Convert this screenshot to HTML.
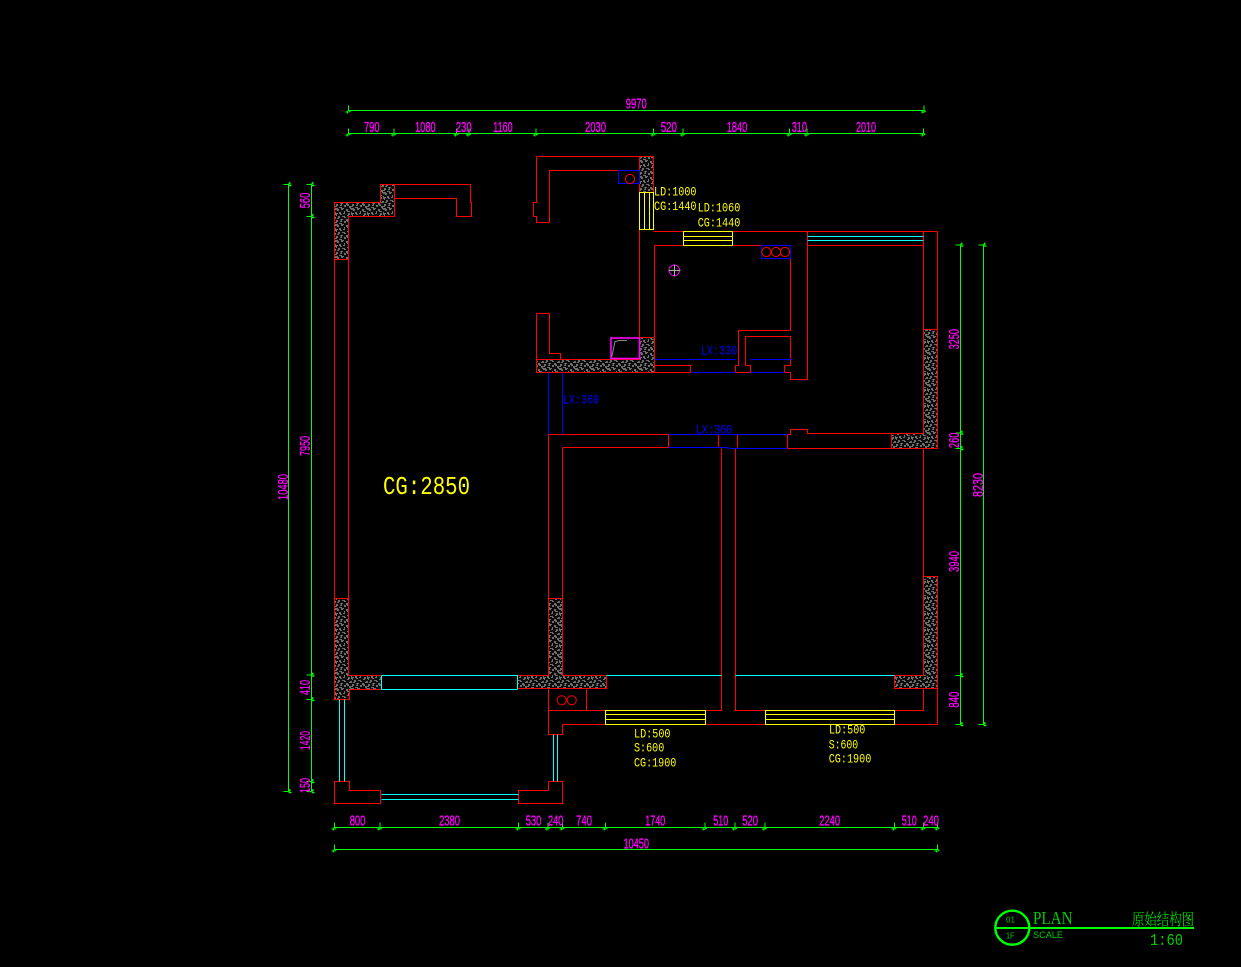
<!DOCTYPE html>
<html><head><meta charset="utf-8"><style>
html,body{margin:0;padding:0;background:#000;width:1241px;height:967px;overflow:hidden}
svg{display:block}
.l{fill:none;shape-rendering:crispEdges;stroke-width:1}
.r{stroke:#f00}.b{stroke:#00f}.y{stroke:#ff0}.c{stroke:#0ff}.g{stroke:#0f0}.m{stroke:#f0f}
text{font-family:"Liberation Sans",sans-serif}
.d text{fill:#f0f;stroke:#f0f;stroke-width:.3;font-size:14.5px}
.o text{fill:#ff0;font-family:"Liberation Mono",monospace;font-size:13px}
.u text{fill:#00f;font-family:"Liberation Mono",monospace;font-size:13px}
</style></head><body>
<svg width="1241" height="967" viewBox="0 0 1241 967" xmlns="http://www.w3.org/2000/svg">
<defs>
<pattern id="h" width="16" height="16" patternUnits="userSpaceOnUse" x="0" y="0">
<rect width="16" height="16" fill="#0c0c0c"/>
<path fill="#6e6e6e" d="M0 0h2v1h1v2h-2v-1h-1zM5 0h3v1h-1v1h-2zM10 1h2v2h2v1h-3v-1h-1zM14 0h2v2h-1v-1h-1zM3 4h2v2h1v1h-2v-1h-1zM8 3h1v3h-2v-1h1zM0 5h2v1h-1v2h-1zM12 5h2v2h-1v1h-2v-1h1zM15 4h1v3h-1zM2 8h2v2h-1v1h-2v-1h1zM6 8h3v1h1v1h-2v-1h-2zM14 9h2v2h-3v-1h1zM10 11h2v1h1v2h-2v-1h-1zM4 11h3v1h-1v2h-2v-1h1zM0 12h2v2h-1v1h-1zM8 13h2v2h-2zM13 14h3v1h-1v1h-2zM3 15h3v1h-3z"/>
</pattern>
<g id="t"><path d="M0 -5V0L2 1M-3 1.5H1M-1.2 0V3" fill="none" stroke="#0f0" stroke-width="1"/></g>
<g id="v"><path d="M-5 0H0L1 -2M1.5 -2.5V2M0 1H3" fill="none" stroke="#0f0" stroke-width="1"/></g>
</defs>
<rect width="1241" height="967" fill="#000"/>

<!-- hatched walls -->
<g fill="url(#h)" stroke="#f00" stroke-width="1" shape-rendering="crispEdges">
<path d="M334.5 202.5H380.5V184.5H394.5V216.5H348.5V259.5H334.5Z"/>
<path d="M334.5 598.5H348.5V675.5H381.5V689.5H349.5V699.5H334.5Z"/>
<path d="M548.5 598.5H562.5V675.5H606.5V688.5H517.5V675.5H548.5Z"/>
<path d="M923.5 576.5H937.5V688.5H894.5V675.5H923.5Z"/>
<path d="M923.5 329.5H937.5V448.5H891.5V433.5H923.5Z"/>
<path d="M639.5 156.5H653.5V192.5H639.5Z"/>
<path d="M536.5 359.5H639.5V337.5H654.5V372.5H536.5Z"/>
</g>

<!-- red walls -->
<path class="l r" d="M334.5 259.5V598.5M348.5 259.5V598.5
M394.5 184.5H470.5V202.5H471.5V216.5H456.5V198.5H394.5
M536.5 156.5H639.5M536.5 156.5V202.5H533.5V216.5H536.5V222.5H549.5V170.5H618.5
M536.5 313.5V359.5M536.5 313.5H549.5V353.5H560.5V359.5
M639.5 229.5V337.5
M653.5 231.5H683.5M732.5 231.5H937.5M654.5 245.5H683.5M732.5 245.5H790.5V330.5H738.5V365.5H735.5V372.5
M654.5 245.5V337.5
M654.5 365.5H690.5V372.5M654.5 372.5H690.5M735.5 372.5H750.5V365.5H745.5V336.5H790.5V365.5H784.5V372.5H790.5V379.5H807.5V231.5
M807.5 245.5H923.5M923.5 231.5V329.5M937.5 231.5V329.5
M548.5 434.5H668.5V447.5M562.5 447.5H668.5M548.5 434.5V598.5M562.5 447.5V598.5
M718.5 434.5V447.5M737.5 434.5V447.5M787.5 434.5V448.5M787.5 434.5H790.5V429.5H807.5V433.5H891.5
M787.5 448.5H891.5M923.5 448.5V576.5
M721.5 448.5V710.5H705.5M735.5 448.5V710.5H765.5
M548.5 688.5V734.5H562.5V724.5H605.5M548.5 710.5H605.5M586.5 688.5V710.5
M705.5 724.5H765.5M894.5 724.5H937.5V688.5M894.5 710.5H923.5V688.5
M334.5 781.5H349.5V790.5H380.5V803.5H334.5Z
M562.5 781.5H548.5V790.5H518.5V803.5H562.5Z"/>

<!-- blue -->
<path class="l b" d="M618.5 170.5H639.5V183.5H618.5Z M761.5 245.5H790.5V258.5H761.5Z
M690.5 372.5H735.5M750.5 372.5H784.5
M654.5 359.5H736.5M750.5 359.5H792.5
M548.5 372.5V434.5M562.5 372.5V434.5
M668.5 434.5H787.5M668.5 447.5H728.5M728.5 448.5H787.5"/>

<!-- cyan -->
<path class="l c" d="M381.5 675.5H517.5V689M381.5 675.5V689.5H517.5
M606.5 675.5H721.5M735.5 675.5H894.5
M339.5 699.5V781.5M344.5 699.5V781.5
M553.5 734.5V781.5M557.5 734.5V781.5
M381.5 794.5H518.5M381.5 799.5H518.5
M807.5 236.5H923.5M807.5 240.5H923.5"/>

<!-- yellow windows -->
<path class="l y" d="M639.5 192.5H653.5V229.5H639.5ZM644.5 192.5V229.5M649.5 192.5V229.5
M683.5 231.5H732.5V245.5H683.5ZM683.5 236.5H732.5M683.5 240.5H732.5
M605.5 710.5H705.5V724.5H605.5ZM605.5 714.5H705.5M605.5 719.5H705.5
M765.5 710.5H894.5V724.5H765.5ZM765.5 714.5H894.5M765.5 719.5H894.5"/>

<!-- fixtures -->
<g fill="none" stroke="#f00" stroke-width="1">
<circle cx="630" cy="179" r="4.6"/>
<circle cx="766.3" cy="252" r="4.6"/><circle cx="776" cy="252" r="4.6"/><circle cx="785" cy="252" r="4.6"/>
<circle cx="561.7" cy="700.3" r="4.6"/><circle cx="571.7" cy="700.3" r="4.6"/>
</g>
<rect x="611" y="338" width="28.5" height="20.5" fill="#000" stroke="#f0f" stroke-width="1.6"/>
<path d="M611.7 357L615 341.7L619 340.5H627" fill="none" stroke="#888" stroke-width="1"/>
<circle cx="674.3" cy="270.3" r="5.3" fill="none" stroke="#f0f"/>
<path class="l" stroke="#aaa" d="M668.5 270.5H680.5M674.5 264.5V276.5"/>

<!-- dimension lines -->
<path class="l g" d="M348.5 110.5H924.5M348.5 133.5H924.5
M334.5 827.5H938.5M334.5 849.5H938.5
M288.5 184.5V791.5M311.5 184.5V791.5
M960.5 245.5V724.5M983.5 245.5V724.5"/>
<g>
<use href="#t" x="348.5" y="110.5"/><use href="#t" x="924" y="110.5"/>
<use href="#t" x="348.5" y="133.5"/><use href="#t" x="394" y="133.5"/><use href="#t" x="456.5" y="133.5"/><use href="#t" x="469" y="133.5"/><use href="#t" x="536" y="133.5"/><use href="#t" x="653.5" y="133.5"/><use href="#t" x="683" y="133.5"/><use href="#t" x="789.5" y="133.5"/><use href="#t" x="807" y="133.5"/><use href="#t" x="923.5" y="133.5"/>
<use href="#t" x="334.5" y="827.5"/><use href="#t" x="380" y="827.5"/><use href="#t" x="518.5" y="827.5"/><use href="#t" x="548" y="827.5"/><use href="#t" x="562.5" y="827.5"/><use href="#t" x="605.5" y="827.5"/><use href="#t" x="705" y="827.5"/><use href="#t" x="735" y="827.5"/><use href="#t" x="765" y="827.5"/><use href="#t" x="894.5" y="827.5"/><use href="#t" x="923.5" y="827.5"/><use href="#t" x="937.5" y="827.5"/>
<use href="#t" x="334.5" y="849.5"/><use href="#t" x="937.5" y="849.5"/>
<use href="#v" x="288.5" y="184.5"/><use href="#v" x="288.5" y="791.5"/>
<use href="#v" x="311.5" y="184.5"/><use href="#v" x="311.5" y="216.5"/><use href="#v" x="311.5" y="675"/><use href="#v" x="311.5" y="699.5"/><use href="#v" x="311.5" y="781.5"/><use href="#v" x="311.5" y="791.5"/>
<use href="#v" x="960.5" y="245"/><use href="#v" x="960.5" y="433"/><use href="#v" x="960.5" y="448.5"/><use href="#v" x="960.5" y="675.5"/><use href="#v" x="960.5" y="724.5"/>
<use href="#v" x="983.5" y="245"/><use href="#v" x="983.5" y="724.5"/>
</g>

<!-- dimension text -->
<g class="d">
<text x="625.7" y="108.5" textLength="21" lengthAdjust="spacingAndGlyphs">9970</text>
<text x="364" y="132" textLength="15.5" lengthAdjust="spacingAndGlyphs">790</text>
<text x="415" y="132" textLength="20.7" lengthAdjust="spacingAndGlyphs">1080</text>
<text x="455.7" y="132" textLength="16" lengthAdjust="spacingAndGlyphs">230</text>
<text x="493.3" y="132" textLength="19.4" lengthAdjust="spacingAndGlyphs">1160</text>
<text x="585" y="132" textLength="21" lengthAdjust="spacingAndGlyphs">2030</text>
<text x="660.7" y="132" textLength="16.3" lengthAdjust="spacingAndGlyphs">520</text>
<text x="726.7" y="132" textLength="20.6" lengthAdjust="spacingAndGlyphs">1840</text>
<text x="791.7" y="132" textLength="15.3" lengthAdjust="spacingAndGlyphs">310</text>
<text x="856" y="132" textLength="20" lengthAdjust="spacingAndGlyphs">2010</text>
<text x="349.7" y="825.5" textLength="15.6" lengthAdjust="spacingAndGlyphs">800</text>
<text x="439" y="825.5" textLength="21" lengthAdjust="spacingAndGlyphs">2380</text>
<text x="525.7" y="825.5" textLength="15.6" lengthAdjust="spacingAndGlyphs">530</text>
<text x="548" y="825.5" textLength="15.3" lengthAdjust="spacingAndGlyphs">240</text>
<text x="576" y="825.5" textLength="16" lengthAdjust="spacingAndGlyphs">740</text>
<text x="645.3" y="825.5" textLength="20" lengthAdjust="spacingAndGlyphs">1740</text>
<text x="713.3" y="825.5" textLength="15" lengthAdjust="spacingAndGlyphs">510</text>
<text x="742.3" y="825.5" textLength="15.7" lengthAdjust="spacingAndGlyphs">520</text>
<text x="819.3" y="825.5" textLength="20.7" lengthAdjust="spacingAndGlyphs">2240</text>
<text x="901.7" y="825.5" textLength="15" lengthAdjust="spacingAndGlyphs">510</text>
<text x="923" y="825.5" textLength="16" lengthAdjust="spacingAndGlyphs">240</text>
<text x="623.5" y="848.5" textLength="25.5" lengthAdjust="spacingAndGlyphs">10450</text>
<text transform="translate(310,208.3) rotate(-90)" textLength="15.6" lengthAdjust="spacingAndGlyphs">560</text>
<text transform="translate(310,456) rotate(-90)" textLength="20" lengthAdjust="spacingAndGlyphs">7950</text>
<text transform="translate(310,695) rotate(-90)" textLength="15" lengthAdjust="spacingAndGlyphs">410</text>
<text transform="translate(310,750) rotate(-90)" textLength="19" lengthAdjust="spacingAndGlyphs">1420</text>
<text transform="translate(310,793) rotate(-90)" textLength="15" lengthAdjust="spacingAndGlyphs">150</text>
<text transform="translate(288,500) rotate(-90)" textLength="26" lengthAdjust="spacingAndGlyphs">10480</text>
<text transform="translate(959,349.3) rotate(-90)" textLength="20.3" lengthAdjust="spacingAndGlyphs">3250</text>
<text transform="translate(959,448) rotate(-90)" textLength="15.3" lengthAdjust="spacingAndGlyphs">260</text>
<text transform="translate(959,572) rotate(-90)" textLength="21" lengthAdjust="spacingAndGlyphs">3940</text>
<text transform="translate(959,707.7) rotate(-90)" textLength="16" lengthAdjust="spacingAndGlyphs">840</text>
<text transform="translate(983,497) rotate(-90)" textLength="24" lengthAdjust="spacingAndGlyphs">8230</text>
</g>

<!-- yellow labels -->
<g class="o">
<text x="654" y="195.5" textLength="42.5" lengthAdjust="spacingAndGlyphs">LD:1000</text>
<text x="654" y="210" textLength="42.5" lengthAdjust="spacingAndGlyphs">CG:1440</text>
<text x="697.7" y="211.5" textLength="42.6" lengthAdjust="spacingAndGlyphs">LD:1060</text>
<text x="697.7" y="226.5" textLength="42.6" lengthAdjust="spacingAndGlyphs">CG:1440</text>
<text x="634" y="737.5" textLength="36.5" lengthAdjust="spacingAndGlyphs">LD:500</text>
<text x="634" y="751.5" textLength="30.3" lengthAdjust="spacingAndGlyphs">S:600</text>
<text x="634" y="766.5" textLength="42.3" lengthAdjust="spacingAndGlyphs">CG:1900</text>
<text x="829" y="733.5" textLength="36.3" lengthAdjust="spacingAndGlyphs">LD:500</text>
<text x="828.7" y="748.5" textLength="29.5" lengthAdjust="spacingAndGlyphs">S:600</text>
<text x="828.7" y="762.5" textLength="42.6" lengthAdjust="spacingAndGlyphs">CG:1900</text>
</g>
<text x="383" y="494" textLength="87" lengthAdjust="spacingAndGlyphs" style="font-family:'Liberation Mono',monospace;font-size:26px;fill:#ff0">CG:2850</text>

<!-- blue labels -->
<g class="u">
<text x="700.7" y="354.5" textLength="36.6" lengthAdjust="spacingAndGlyphs">LX:330</text>
<text x="562.7" y="403.5" textLength="36.6" lengthAdjust="spacingAndGlyphs">LX:360</text>
<text x="695.7" y="433.5" textLength="36.6" lengthAdjust="spacingAndGlyphs">LX:360</text>
</g>

<!-- title block -->
<circle cx="1012.3" cy="927.7" r="17" fill="none" stroke="#0f0" stroke-width="2.4"/>
<rect x="995" y="927" width="199" height="2" fill="#0f0"/>
<text x="1006" y="922.5" textLength="9" lengthAdjust="spacingAndGlyphs" style="font-size:8px;fill:#0c0">01</text>
<text x="1006" y="938.5" textLength="8.5" lengthAdjust="spacingAndGlyphs" style="font-size:8px;fill:#0c0">1F</text>
<text x="1033" y="924" textLength="39.5" lengthAdjust="spacingAndGlyphs" style="font-family:'Liberation Serif',serif;font-size:18px;fill:#0c0">PLAN</text>
<text x="1033" y="938" textLength="30" lengthAdjust="spacingAndGlyphs" style="font-size:9.5px;fill:#0c0">SCALE</text>
<text x="1132" y="925" textLength="62" lengthAdjust="spacingAndGlyphs" style="font-family:'Liberation Serif','Noto Serif CJK SC',serif;font-size:16px;fill:#0d0">原始结构图</text>
<text x="1150" y="945" textLength="33" lengthAdjust="spacingAndGlyphs" style="font-family:'Liberation Mono',monospace;font-size:17px;fill:#0c0">1:60</text>
</svg>
</body></html>
